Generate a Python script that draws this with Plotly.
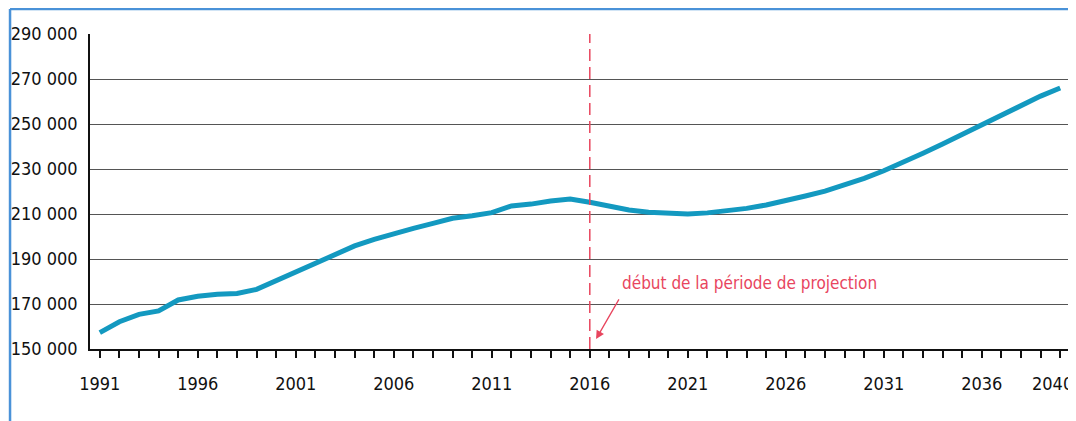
import plotly.graph_objects as go

years = list(range(1991, 2041))
population = [
    157300, 162100, 165400, 166900, 171800, 173400, 174300, 174700, 176500, 180400,
    184700, 188400, 192100, 195800, 198700, 201400, 203600, 205800, 208100, 209200,
    210600, 213600, 214400, 215800, 216700, 215200, 213300, 211800, 210800, 210200,
    210000, 210500, 211300, 212500, 214000, 215800, 218000, 220200, 222900, 225800,
    229200, 232800, 237000, 241100, 245400, 249800, 254300, 258600, 262400, 266000,
]

x_label_years = [1991, 1996, 2001, 2006, 2011, 2016, 2021, 2026, 2031, 2036]
last_label_year = 2040
y_tick_values = [150000, 170000, 190000, 210000, 230000, 250000, 270000, 290000]
y_tick_labels = ["150 000", "170 000", "190 000", "210 000", "230 000", "250 000", "270 000", "290 000"]
projection_start = 2016
annotation_text = "début de la période de projection"

FONT = "DejaVu Sans Condensed, Liberation Sans Narrow, sans-serif"
RED = "#e8455e"
BLUE = "#1399c0"

x_ticktext = [str(y) if y in x_label_years else "" for y in years]

fig = go.Figure()
fig.add_trace(go.Scatter(
    x=years, y=population, mode="lines",
    line=dict(color=BLUE, width=5),
    hoverinfo="x+y", showlegend=False,
))

# projection start dashed line
fig.add_shape(type="line", xref="x", yref="y",
              x0=projection_start, x1=projection_start, y0=150000, y1=290000,
              line=dict(color=RED, width=1.5, dash="12px,6px"), layer="above")

# annotation text
fig.add_annotation(x=2017.55, y=179300, xref="x", yref="y",
                   text=annotation_text, showarrow=False,
                   xanchor="left", yanchor="middle",
                   font=dict(family=FONT, size=17, color=RED))
# arrow
fig.add_annotation(x=2016.32, y=154400, ax=2017.53, ay=172700,
                   xref="x", yref="y", axref="x", ayref="y",
                   text="", showarrow=True, arrowhead=2, arrowsize=1.3,
                   arrowwidth=1.3, arrowcolor=RED)

# last x label, kept inside the page edge
fig.add_annotation(x=1.0051, y=-0.108, xref="paper", yref="paper",
                   text=str(last_label_year), showarrow=False,
                   xanchor="right", yanchor="middle",
                   font=dict(family=FONT, size=18, color="#111111"))

# outer frame (left and top edges of a light blue box)
fig.add_shape(type="line", xref="paper", yref="paper",
              x0=-0.0816, x1=-0.0816, y0=-0.3, y1=1.0794,
              line=dict(color="#4a92d8", width=2.5))
fig.add_shape(type="line", xref="paper", yref="paper",
              x0=-0.0816, x1=1.1, y0=1.0794, y1=1.0794,
              line=dict(color="#4a92d8", width=2.5))

fig.update_layout(
    width=1068, height=413,
    margin=dict(l=82, r=6, t=26, b=72, autoexpand=False),
    paper_bgcolor="white", plot_bgcolor="white",
    font=dict(family=FONT, size=19, color="#111111"),
    xaxis=dict(
        range=[1990.5, 2040.5], automargin=False,
        tickmode="array", tickvals=years, ticktext=x_ticktext,
        ticks="outside", ticklen=7, tickwidth=1.5, tickcolor="#111111",
        showline=True, linecolor="#111111", linewidth=2,
        showgrid=False, zeroline=False,
        ticklabelstandoff=10, ticklabeloverflow="allow",
        tickfont=dict(family=FONT, size=18, color="#111111"),
    ),
    yaxis=dict(
        range=[150000, 290000], automargin=False,
        tickmode="array", tickvals=y_tick_values, ticktext=y_tick_labels,
        ticks="", showline=True, linecolor="#111111", linewidth=1.5,
        showgrid=True, gridcolor="#555555", gridwidth=1.3,
        zeroline=False, ticklabelstandoff=7, ticklabeloverflow="allow",
        tickfont=dict(family=FONT, size=18, color="#111111"),
    ),
)

fig.write_html("out.html")
